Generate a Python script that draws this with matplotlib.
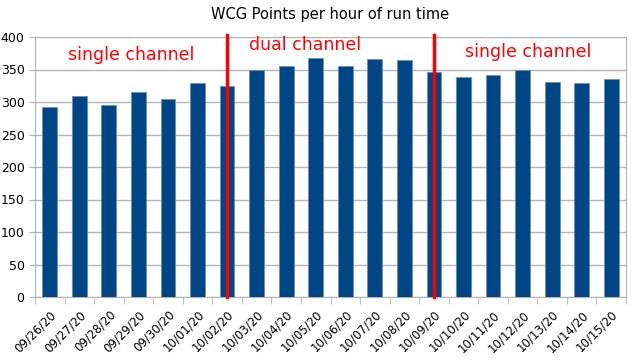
import numpy as np
import matplotlib
matplotlib.use("Agg")
import matplotlib.pyplot as plt

dates = ["09/26/20", "09/27/20", "09/28/20", "09/29/20", "09/30/20", "10/01/20",
         "10/02/20", "10/03/20", "10/04/20", "10/05/20", "10/06/20", "10/07/20",
         "10/08/20", "10/09/20", "10/10/20", "10/11/20", "10/12/20", "10/13/20",
         "10/14/20", "10/15/20"]
points = [292, 310, 295, 316, 305, 329, 325, 349, 356, 367, 356, 366,
          364, 346, 338, 342, 349, 331, 329, 336]
switch_dates = ["10/02/20", "10/09/20"]
labels = ["single channel", "dual channel", "single channel"]

fig = plt.figure(figsize=(6.35, 3.64), dpi=100)
ax = fig.add_axes([35 / 635, 1 - 297 / 364, 591 / 635, 260 / 364])

x = np.arange(len(dates))
ax.bar(x, points, width=0.5, color="#004586", edgecolor="#6f8fb5", linewidth=0.6, zorder=3)

ax.set_xlim(-0.5, len(dates) - 0.5)
ax.set_ylim(0, 400)
ax.set_yticks(np.arange(0, 401, 50))
ax.yaxis.grid(True, color="#b3b3b3", linewidth=1, zorder=0)
for s in ax.spines.values():
    s.set_color("#b3b3b3")
ax.tick_params(axis="y", colors="#b3b3b3", labelcolor="black", labelsize=9, length=4)

ax.set_xticks(x)
ax.set_xticklabels(dates, rotation=45, ha="right", va="top", rotation_mode="anchor", fontsize=8.5)
ax.set_xticks(np.arange(-0.5, len(dates), 1), minor=True)
ax.tick_params(axis="x", which="major", length=0, pad=8)
ax.tick_params(axis="x", which="minor", length=5, color="#b3b3b3")

for d in switch_dates:
    i = dates.index(d)
    ax.plot([i, i], [0, 403], color="red", linewidth=2.5, clip_on=False, zorder=5)

ax.text(2.75, 372, labels[0], color="red", fontsize=12.5, ha="center", va="center")
ax.text(8.65, 388, labels[1], color="red", fontsize=12.5, ha="center", va="center")
ax.text(16.2, 377, labels[2], color="red", fontsize=12.5, ha="center", va="center")

ax.set_title("WCG Points per hour of run time", fontsize=10.5, pad=13)

fig.savefig("out.png", dpi=100)
